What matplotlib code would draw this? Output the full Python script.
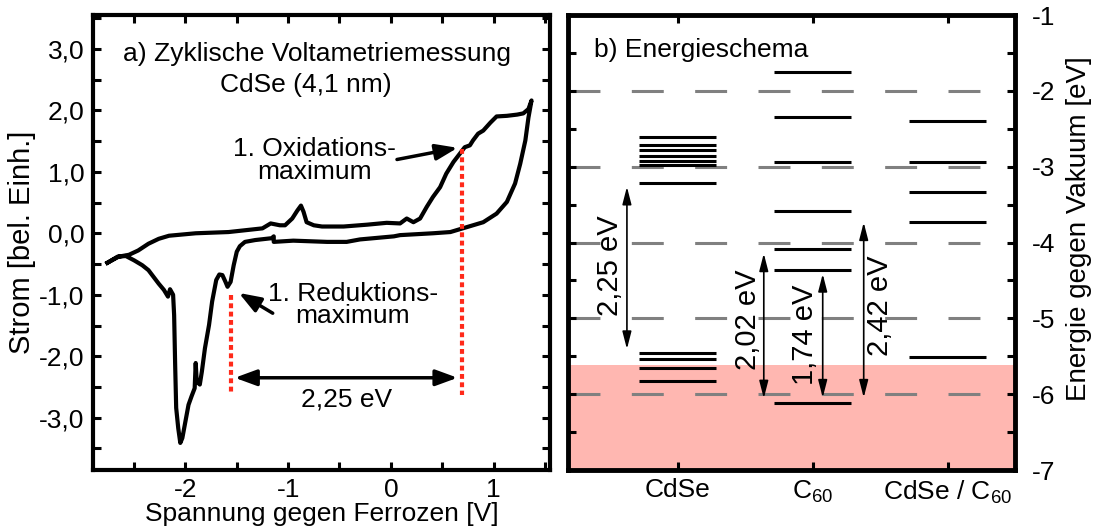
import matplotlib
matplotlib.use("Agg")
import matplotlib.pyplot as plt
from matplotlib.ticker import FixedLocator, MultipleLocator, FuncFormatter

plt.rcParams["font.family"] = ["Liberation Sans", "DejaVu Sans"]
plt.rcParams["mathtext.default"] = "regular"
plt.rcParams["axes.unicode_minus"] = False
plt.rcParams["lines.scale_dashes"] = False

# ---------------- data: cyclic voltammogram (closed loop) ----------------
cv_voltage = [
    -2.76, -2.65, -2.55, -2.46, -2.36, -2.26, -2.16, -1.90, -1.58, -1.25,
    -1.17, -1.08, -1.03, -0.96, -0.91, -0.875, -0.85, -0.82, -0.75, -0.67,
    -0.46, -0.23, -0.04, 0.09, 0.155, 0.22, 0.285, 0.35, 0.41, 0.48,
    0.54, 0.61, 0.67, 0.72, 0.77, 0.80, 0.85, 0.90, 0.97, 1.03,
    1.13, 1.23, 1.29, 1.34, 1.37,
    1.34, 1.31, 1.26, 1.21, 1.13, 1.03, 0.90, 0.74, 0.58, 0.41,
    0.09, 0.03, -0.30, -0.43, -0.62, -0.95, -1.14, -1.14, -1.16, -1.32,
    -1.42, -1.47, -1.50, -1.53, -1.56, -1.59, -1.61, -1.64, -1.67, -1.70,
    -1.74, -1.77, -1.81, -1.84, -1.86, -1.89, -1.90, -1.91, -1.94, -1.97,
    -2.00, -2.03, -2.05, -2.07, -2.09, -2.10, -2.11, -2.12, -2.15, -2.17,
    -2.21, -2.26, -2.31, -2.36, -2.42, -2.50, -2.58, -2.66, -2.76,
]
cv_current = [
    -0.48, -0.38, -0.35, -0.28, -0.17, -0.09, -0.04, 0.00, 0.02, 0.08,
    0.16, 0.13, 0.13, 0.24, 0.37, 0.45, 0.35, 0.18, 0.13, 0.11,
    0.11, 0.14, 0.17, 0.16, 0.24, 0.18, 0.24, 0.43, 0.59, 0.75,
    0.97, 1.16, 1.29, 1.40, 1.43, 1.51, 1.62, 1.67, 1.80, 1.90,
    1.91, 1.93, 1.95, 2.02, 2.16,
    1.88, 1.51, 1.13, 0.81, 0.51, 0.32, 0.18, 0.10, 0.02, 0.00,
    -0.03, -0.05, -0.10, -0.14, -0.14, -0.12, -0.14, -0.05, -0.08, -0.11,
    -0.14, -0.21, -0.30, -0.52, -0.79, -0.87, -0.79, -0.68, -0.67, -0.76,
    -1.11, -1.49, -1.87, -2.25, -2.46, -2.41, -2.11, -2.52, -2.65, -2.79,
    -3.06, -3.33, -3.41, -3.17, -2.84, -2.14, -1.33, -1.00, -0.91, -1.03,
    -0.92, -0.82, -0.71, -0.60, -0.52, -0.44, -0.37, -0.38, -0.48,
]
reduction_peak = -1.56           # V, first reduction maximum
gap_cv = 2.25                     # eV
oxidation_peak = reduction_peak + gap_cv

cv_xticks = [-2, -1, 0, 1]
cv_yticks = [3.0, 2.0, 1.0, 0.0, -1.0, -2.0, -3.0]

# ---------------- data: energy scheme ----------------
columns = ["CdSe", "C$_{60}$", "CdSe / C$_{60}$"]
levels_cdse = [-2.61, -2.72, -2.78, -2.86, -2.93, -2.98, -3.21,
               -5.46, -5.54, -5.66, -5.82]
levels_c60 = [-1.75, -2.34, -2.94, -3.59, -4.09, -4.36, -6.11]
levels_mix = [-2.40, -2.94, -3.34, -3.73, -5.51]
band_top = -5.62
grid_energies = [-2, -3, -4, -5, -6]
energy_ticks = [-1, -2, -3, -4, -5, -6, -7]

# gaps: (label, arrow x, upper level, gap value, label x, label y)
gaps = [
    ("2,25 eV", 0.622, -3.21, 2.25, 0.496, -4.30),
    ("2,02 eV", 1.637, -4.09, 2.02, 1.52, -5.02),
    ("1,74 eV", 2.074, -4.36, 1.74, 1.94, -5.22),
    ("2,42 eV", 2.378, -3.68, 2.42, 2.50, -4.83),
]

W, H = 1094, 531
fig = plt.figure(figsize=(W / 100, H / 100), dpi=100)

FS = 19          # horizontal text
FS_ROT = 21      # vertical text
spine_lw = 3.0
tick_kw = dict(direction="in", length=6, width=2.2, top=True, right=True,
               labelsize=FS, pad=6)

# ================= panel a =================
ax1 = fig.add_axes([93 / W, 1 - 470 / H, (550 - 93) / W, (470 - 15) / H])
ax1.plot(cv_voltage, cv_current, color="black", lw=3.0, solid_joinstyle="round")
ax1.set_xlim(-2.9, 1.55)
ax1.set_ylim(-3.85, 3.55)
ax1.xaxis.set_major_locator(FixedLocator(cv_xticks))
ax1.xaxis.set_minor_locator(MultipleLocator(0.5))
ax1.yaxis.set_major_locator(FixedLocator(cv_yticks))
ax1.yaxis.set_minor_locator(MultipleLocator(0.5))
ax1.xaxis.set_major_formatter(FuncFormatter(lambda v, p: f"{v:.0f}"))
ax1.yaxis.set_major_formatter(FuncFormatter(lambda v, p: f"{v:.1f}".replace(".", ",")))
ax1.tick_params(which="both", **tick_kw)
for s in ax1.spines.values():
    s.set_linewidth(spine_lw)
ax1.set_xlabel("Spannung gegen Ferrozen [V]", fontsize=FS, labelpad=0)
ax1.set_ylabel("Strom [bel. Einh.]", fontsize=FS_ROT)
ax1.yaxis.label.set_va("center")
ax1.yaxis.set_label_coords(-0.155, 0.50)

ax1.text(-0.717, 2.92, "a) Zyklische Voltametriemessung", ha="center", va="center", fontsize=FS)
ax1.text(-0.83, 2.41, "CdSe (4,1 nm)", ha="center", va="center", fontsize=FS)

red_kw = dict(color="#ff2a1a", lw=3.0, dashes=(3.5, 2.5))
ax1.plot([reduction_peak, reduction_peak], [-1.0, -2.63], **red_kw)
ax1.plot([oxidation_peak, oxidation_peak], [1.37, -2.63], **red_kw)

arrow_big = dict(arrowstyle="-|>,head_length=0.6,head_width=0.22", color="black",
                 lw=2.5, mutation_scale=22, shrinkA=0, shrinkB=0)
ax1.annotate("", xy=(0.65, 1.39), xytext=(0.06, 1.20), arrowprops=arrow_big)
ax1.text(-0.74, 1.18, "1. Oxidations-\nmaximum", ha="center", va="center",
         fontsize=FS, linespacing=0.92)
ax1.annotate("", xy=(-1.48, -0.97), xytext=(-1.15, -1.30), arrowprops=arrow_big)
ax1.text(-0.37, -1.17, "1. Reduktions-\nmaximum", ha="center", va="center",
         fontsize=FS, linespacing=0.92)

arrow_dbl = dict(arrow_big)
arrow_dbl["arrowstyle"] = "<|-|>,head_length=0.6,head_width=0.22"
arrow_dbl["shrinkA"] = arrow_dbl["shrinkB"] = 3
ax1.annotate("", xy=(oxidation_peak, -2.35), xytext=(reduction_peak, -2.35),
             arrowprops=arrow_dbl)
ax1.text((reduction_peak + oxidation_peak) / 2, -2.71, "2,25 eV",
         ha="center", va="center", fontsize=FS)

# ================= panel b =================
ax2 = fig.add_axes([568 / W, 1 - 470 / H, (1015 - 568) / W, (470 - 15) / H])
ax2.set_xlim(0.185, 3.5)
ax2.set_ylim(-7, -1)
ax2.axhspan(-7, band_top, color="#ffb7b1", lw=0, zorder=0)
for e in grid_energies:
    ax2.axhline(e, color="#808080", lw=2.2, dashes=(23, 22.6), zorder=1)

half = 0.285
for xc, lv in zip([1, 2, 3], [levels_cdse, levels_c60, levels_mix]):
    ax2.hlines(lv, xc - half, xc + half, color="black", lw=2.2, zorder=3)

arrow_thin = dict(arrowstyle="<|-|>,head_length=0.7,head_width=0.18", color="black",
                  lw=1.2, mutation_scale=15, shrinkA=3, shrinkB=3)
for label, xa, top, val, xt, yt in gaps:
    ax2.annotate("", xy=(xa, top), xytext=(xa, top - val), arrowprops=arrow_thin, zorder=4)
    ax2.text(xt, yt, label, rotation=90, ha="center", va="center",
             fontsize=FS_ROT, zorder=4)

ax2.text(0.38, -1.46, "b) Energieschema", ha="left", va="center", fontsize=FS)

ax2.xaxis.set_major_locator(FixedLocator([1, 2, 3]))
ax2.set_xticklabels(columns)
ax2.yaxis.set_major_locator(FixedLocator(energy_ticks))
ax2.yaxis.set_minor_locator(MultipleLocator(0.5))
ax2.yaxis.set_major_formatter(FuncFormatter(lambda v, p: f"{v:.0f}"))
ax2.tick_params(which="both", direction="in", length=6, width=2.2, top=True,
                left=True, right=True, labelleft=False, labelright=True,
                labelsize=FS)
ax2.tick_params(axis="y", pad=12)
ax2.tick_params(axis="x", pad=6)
ax2.tick_params(axis="x", which="minor", top=False, bottom=False)
for s in ax2.spines.values():
    s.set_linewidth(spine_lw + 0.5)
    s.set_zorder(5)
ax2.yaxis.set_label_position("right")
ax2.set_ylabel("Energie gegen Vakuum [eV]", fontsize=20)
ax2.yaxis.label.set_va("center")
ax2.yaxis.set_label_coords(1.143, 0.531)

fig.savefig("out.png", dpi=100)
